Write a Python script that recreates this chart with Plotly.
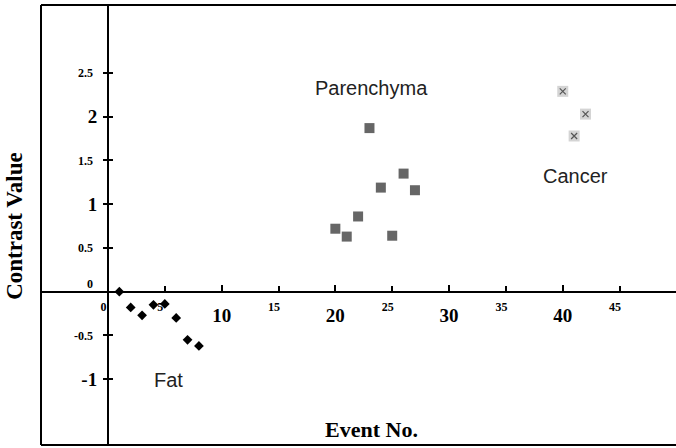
import plotly.graph_objects as go

# ---- data ----
fat_x = [1, 2, 3, 4, 5, 6, 7, 8]
fat_y = [0.0, -0.18, -0.27, -0.15, -0.14, -0.30, -0.55, -0.62]

par_x = [20, 21, 22, 23, 24, 25, 26, 27]
par_y = [0.72, 0.63, 0.86, 1.87, 1.19, 0.64, 1.35, 1.16]

can_x = [40, 41, 42]
can_y = [2.29, 1.78, 2.03]

x_major_vals = [10, 20, 30, 40]
x_major_text = ["10", "20", "30", "40"]
x_minor_vals = [0, 5, 15, 25, 35, 45]
x_minor_text = ["0", "5", "15", "25", "35", "45"]

y_tick_vals = [2.5, 2, 1.5, 1, 0.5, 0, -0.5, -1]
y_major_text = ["", "2", "", "1", "", "", "", "-1"]
y_minor_text = ["2.5", "", "1.5", "", "0.5", "0<br>\u00a0", "-0.5", ""]

group_labels = ["Parenchyma", "Cancer", "Fat"]
group_label_x = [23.2, 41.1, 5.3]
group_label_y = [2.33, 1.32, -1.01]

x_title = "Event No."
y_title = "Contrast Value"

# ---- layout geometry ----
xmin, xmax = -5.89, 49.96
ymin, ymax = -1.752, 3.277
zx = (0 - xmin) / (xmax - xmin)
zy = (0 - ymin) / (ymax - ymin)

serif = "Liberation Serif, Times New Roman, serif"
sans = "Liberation Sans, Arial, sans-serif"
big = dict(family=serif, size=19, color="black", weight="bold")
small = dict(family=serif, size=12, color="black", weight="bold")

# minor x labels sit slightly left of their ticks in the original
pad = "\u00a0\u00a0\u00a0"
x_minor_display = [t + pad for t in x_minor_text]

fig = go.Figure()
fig.add_trace(go.Scatter(x=fat_x, y=fat_y, mode="markers",
                         marker=dict(symbol="diamond", size=7.5, color="black"),
                         showlegend=False))
fig.add_trace(go.Scatter(x=par_x, y=par_y, mode="markers",
                         marker=dict(symbol="square", size=10, color="#666666",
                                     line=dict(width=0)),
                         showlegend=False))
fig.add_trace(go.Scatter(x=can_x, y=can_y, mode="markers", xaxis="x2", yaxis="y2",
                         marker=dict(symbol="square", size=11, color="#d4d4d4",
                                     line=dict(width=0)),
                         showlegend=False))
fig.add_trace(go.Scatter(x=can_x, y=can_y, mode="markers", xaxis="x2", yaxis="y2",
                         marker=dict(symbol="x-thin", size=6,
                                     line=dict(width=1.2, color="#555555")),
                         showlegend=False))

common_x = dict(range=[xmin, xmax], domain=[0, 1], anchor="free", position=zy,
                showgrid=False, zeroline=False, tickmode="array",
                ticks="inside", ticklen=6, tickwidth=1.5, tickcolor="black")
common_y = dict(range=[ymin, ymax], domain=[0, 1], anchor="free", position=zx,
                showgrid=False, zeroline=False, tickmode="array",
                tickvals=y_tick_vals, ticklen=4, tickwidth=1.5, tickcolor="black")

fig.update_layout(
    width=676, height=448,
    margin=dict(l=41, r=0, t=5, b=3),
    paper_bgcolor="white", plot_bgcolor="white",
    xaxis=dict(**common_x, showline=True, linewidth=2, linecolor="black",
               tickvals=x_major_vals, ticktext=x_major_text, tickfont=big,
               ticklabelstandoff=6),
    xaxis2=dict(**common_x, overlaying="x", showline=False,
                tickvals=x_minor_vals, ticktext=x_minor_display, tickfont=small,
                ticklabelstandoff=6),
    yaxis=dict(**common_y, showline=True, linewidth=2, linecolor="black",
               ticks="outside", ticktext=y_major_text, tickfont=big,
               ticklabelstandoff=2),
    yaxis2=dict(**common_y, overlaying="y", showline=False,
                ticks="inside", ticktext=y_minor_text, tickfont=small,
                ticklabelstandoff=15),
    shapes=[
        dict(type="line", xref="paper", yref="paper", x0=0, x1=0, y0=0, y1=1,
             line=dict(color="black", width=2)),
        dict(type="line", xref="paper", yref="paper", x0=0, x1=1, y0=1, y1=1,
             line=dict(color="black", width=2)),
        dict(type="line", xref="paper", yref="paper", x0=0, x1=1, y0=0, y1=0,
             line=dict(color="black", width=2)),
    ],
)

for t, ax, ay in zip(group_labels, group_label_x, group_label_y):
    fig.add_annotation(x=ax, y=ay, text=t, showarrow=False,
                       font=dict(family=sans, size=20, color="#222222"))

fig.add_annotation(x=23.2, y=-1.57, text=x_title, showarrow=False,
                   font=dict(family=serif, size=22, color="black", weight="bold"))
fig.add_annotation(xref="paper", yref="paper", x=-0.041, y=0.498, text=y_title,
                   xanchor="center", yanchor="middle",
                   showarrow=False, textangle=-90,
                   font=dict(family=serif, size=23, color="black", weight="bold"))

fig.write_html("out.html")
